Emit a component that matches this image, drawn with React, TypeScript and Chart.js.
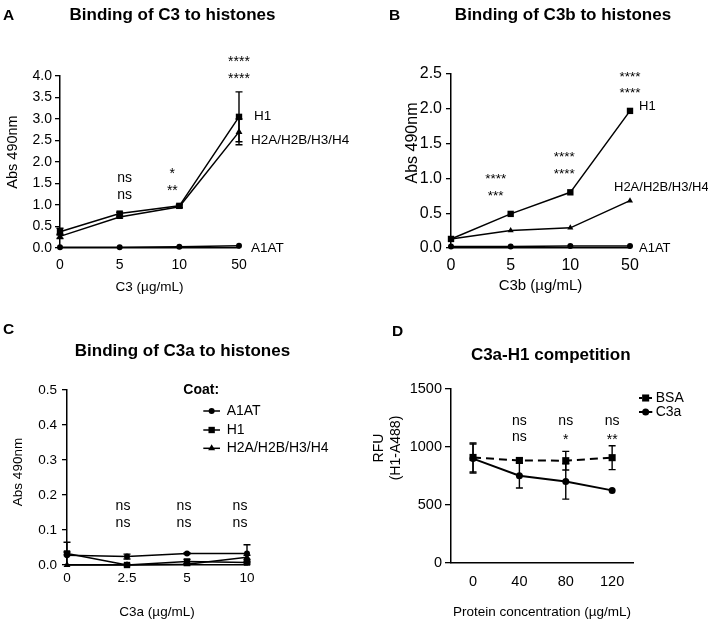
import React, { useEffect, useRef } from 'react';
import { Chart, registerables } from 'chart.js';

Chart.register(...registerables);

const FONT = '"Liberation Sans", Arial, Helvetica, sans-serif';

// ---------- Panel A: Binding of C3 to histones ----------
const concA = ['0', '5', '10', '50'];
const a1atA = [0.02, 0.02, 0.03, 0.05];
const a1atErrA = [0, 0, 0, 0];
const h1A = [0.38, 0.8, 0.98, 3.05];
const h1ErrA = [0.08, 0.03, 0.03, 0.58];
const h2aA = [0.27, 0.72, 0.96, 2.7];
const h2aErrA = [0.05, 0.02, 0.02, 0.3];
const sigTopA = ['', 'ns', '*', '****'];
const sigBottomA = ['', 'ns', '**', '****'];

// ---------- Panel B: Binding of C3b to histones ----------
const concB = ['0', '5', '10', '50'];
const a1atB = [0.02, 0.02, 0.03, 0.03];
const a1atErrB = [0, 0, 0, 0];
const h1B = [0.13, 0.49, 0.8, 1.97];
const h1ErrB = [0, 0, 0, 0];
const h2aB = [0.13, 0.25, 0.29, 0.68];
const h2aErrB = [0, 0, 0, 0];
const sigTopB = ['', '****', '****', '****'];
const sigBottomB = ['', '***', '****', '****'];

// ---------- Panel C: Binding of C3a to histones ----------
const concC = ['0', '2.5', '5', '10'];
const a1atC = [0.028, 0.024, 0.033, 0.033];
const a1atErrC = [0.037, 0.007, 0.002, 0.025];
const h1C = [0.033, 0.0, 0.01, 0.007];
const h1ErrC = [0.004, 0.002, 0.006, 0.004];
const h2aC = [0.0, 0.0, 0.002, 0.022];
const h2aErrC = [0, 0, 0.002, 0.006];
const sigTopC = ['', 'ns', 'ns', 'ns'];
const sigBottomC = ['', 'ns', 'ns', 'ns'];

// ---------- Panel D: C3a-H1 competition ----------
const concD = [0, 40, 80, 120];
const bsaD = [910, 884, 882, 908];
const bsaErrD = [125, 20, 80, 103];
const c3aD = [900, 753, 703, 626];
const c3aErrD = [125, 107, 152, 0];
const sigTopD = ['', 'ns', 'ns', 'ns'];
const sigBottomD = ['', 'ns', '*', '**'];

type Marker = 'rect' | 'circle' | 'triangle';
type Series = { name: string; data: number[]; err: number[]; marker: Marker; dash?: number[] };
type PanelSpec = {
  box: [number, number, number, number];
  letter: string; letterXY: [number, number];
  title: string; titleXY: [number, number];
  yTitle: string[]; yTitleX: number[]; yTitleY: number; yTitleFont: number;
  xTitle: string; xTitleFont: number;
  pad: { left: number; top: number; right: number; bottom: number };
  yWidth: number; xHeight: number;
  tickFont: number; xTickPad: number; yTickPad: number; tickLen: number;
  yMin: number; yMax: number; yStep: number; yDec: number;
  cats?: string[]; xNum?: { values: number[]; min: number; max: number };
  series: Series[];
  lineWidth: number; radius: Record<Marker, number>;
  sig: { top: string[]; bottom: string[]; levelTop: number[]; levelBottom: number[]; dx: number[]; font: number };
  endLabels?: { text: string; y: number; dx: number }[]; endFont?: number;
  legend?: { heading?: string; headingXY?: [number, number]; x0: number; x1: number; tx: number; ys: number[]; font: number };
};

const f = (size: number, bold = false) => `${bold ? 'bold ' : ''}${size}px ${FONT}`;

function drawMarker(ctx: CanvasRenderingContext2D, m: Marker, x: number, y: number, r: number) {
  ctx.beginPath();
  if (m === 'circle') {
    ctx.arc(x, y, r, 0, Math.PI * 2);
  } else if (m === 'rect') {
    const s = r * Math.SQRT1_2;
    ctx.rect(x - s, y - s, 2 * s, 2 * s);
  } else {
    for (let k = 0; k < 3; k++) {
      const a = (k * 2 * Math.PI) / 3;
      const px = x + Math.sin(a) * r;
      const py = y - Math.cos(a) * r;
      if (k === 0) ctx.moveTo(px, py); else ctx.lineTo(px, py);
    }
    ctx.closePath();
  }
  ctx.fill();
}

function extras(p: PanelSpec) {
  return {
    id: 'extras',
    beforeDatasetsDraw(chart: any) {
      const ctx: CanvasRenderingContext2D = chart.ctx;
      const ys = chart.scales.y;
      ctx.save();
      ctx.strokeStyle = '#000';
      ctx.lineWidth = 1.4;
      p.series.forEach((s, i) => {
        const meta = chart.getDatasetMeta(i);
        s.err.forEach((e, j) => {
          if (!e) return;
          const x = meta.data[j].x;
          const yt = ys.getPixelForValue(s.data[j] + e);
          const lowVal = s.data[j] - e;
          const yb = ys.getPixelForValue(Math.max(lowVal, p.yMin));
          ctx.beginPath();
          ctx.moveTo(x, yt); ctx.lineTo(x, yb);
          ctx.moveTo(x - 3.5, yt); ctx.lineTo(x + 3.5, yt);
          if (lowVal >= p.yMin) { ctx.moveTo(x - 3.5, yb); ctx.lineTo(x + 3.5, yb); }
          ctx.stroke();
        });
      });
      ctx.restore();
    },
    afterDraw(chart: any) {
      const ctx: CanvasRenderingContext2D = chart.ctx;
      const xs = chart.scales.x;
      const ys = chart.scales.y;
      ctx.save();
      ctx.fillStyle = '#000';
      ctx.strokeStyle = '#000';
      // letter + title
      ctx.textBaseline = 'middle';
      ctx.textAlign = 'left';
      ctx.font = f(15.5, true);
      ctx.fillText(p.letter, p.letterXY[0], p.letterXY[1]);
      ctx.textAlign = 'center';
      ctx.font = f(17, true);
      ctx.fillText(p.title, p.titleXY[0], p.titleXY[1]);
      // y title
      ctx.font = f(p.yTitleFont);
      p.yTitle.forEach((t, k) => {
        ctx.save();
        ctx.translate(p.yTitleX[k], p.yTitleY);
        ctx.rotate(-Math.PI / 2);
        ctx.fillText(t, 0, 0);
        ctx.restore();
      });
      // significance annotations
      ctx.font = f(p.sig.font);
      const xPix = (j: number) => (p.xNum ? xs.getPixelForValue(p.xNum.values[j]) : xs.getPixelForValue(j));
      const drawSig = (t: string, j: number, level: number) => {
        if (!t) return;
        const isStar = /^\*+$/.test(t);
        const y = ys.getPixelForValue(level) + (isStar ? p.sig.font * 0.22 : 0);
        ctx.fillText(t, xPix(j) + p.sig.dx[j], y);
      };
      p.sig.top.forEach((t, j) => drawSig(t, j, p.sig.levelTop[j]));
      p.sig.bottom.forEach((t, j) => drawSig(t, j, p.sig.levelBottom[j]));
      // end-of-line labels
      if (p.endLabels) {
        ctx.textAlign = 'left';
        ctx.font = f(p.endFont || 13.5);
        const last = p.series[0].data.length - 1;
        p.endLabels.forEach((l) => {
          ctx.fillText(l.text, xPix(last) + l.dx, ys.getPixelForValue(l.y));
        });
      }
      // legend
      if (p.legend) {
        const L = p.legend;
        ctx.textAlign = 'left';
        if (L.heading && L.headingXY) {
          ctx.font = f(L.font, true);
          ctx.fillText(L.heading, L.headingXY[0], L.headingXY[1]);
        }
        ctx.font = f(L.font);
        p.series.forEach((s, i) => {
          const y = L.ys[i];
          ctx.lineWidth = p.lineWidth;
          ctx.setLineDash(s.dash ? [3, 2] : []);
          ctx.beginPath();
          ctx.moveTo(L.x0, y); ctx.lineTo(L.x1, y);
          ctx.stroke();
          ctx.setLineDash([]);
          drawMarker(ctx, s.marker, (L.x0 + L.x1) / 2, y, p.radius[s.marker]);
          ctx.fillText(s.name, L.tx, y);
        });
      }
      ctx.restore();
    },
  };
}

function buildConfig(p: PanelSpec): any {
  const datasets = p.series.map((s) => ({
    label: s.name,
    data: p.xNum ? p.xNum.values.map((x, i) => ({ x, y: s.data[i] })) : s.data,
    borderColor: '#000',
    backgroundColor: '#000',
    borderWidth: p.lineWidth,
    borderDash: s.dash || [],
    pointStyle: s.marker,
    pointRadius: p.radius[s.marker],
    pointBackgroundColor: '#000',
    pointBorderColor: '#000',
    pointBorderWidth: 0,
    tension: 0,
    fill: false,
    clip: false,
  }));
  const xScale: any = p.xNum
    ? {
        type: 'linear',
        min: p.xNum.min,
        max: p.xNum.max,
        afterBuildTicks: (s: any) => { s.ticks = p.xNum!.values.map((v) => ({ value: v })); },
      }
    : { type: 'category', offset: false };
  Object.assign(xScale, {
    grid: { display: false, drawTicks: false },
    border: { display: true, color: '#000', width: 1.5 },
    ticks: { color: '#000', font: { family: FONT, size: p.tickFont }, padding: p.xTickPad, autoSkip: false, maxRotation: 0 },
    title: { display: true, text: p.xTitle, color: '#000', font: { family: FONT, size: p.xTitleFont }, padding: { top: 0, bottom: 0 } },
    afterFit: (s: any) => { s.height = p.xHeight; },
  });
  return {
    type: 'line',
    data: { labels: p.cats, datasets },
    options: {
      animation: false,
      responsive: false,
      maintainAspectRatio: false,
      events: [],
      layout: { padding: p.pad, autoPadding: false },
      plugins: { legend: { display: false }, tooltip: { enabled: false }, title: { display: false } },
      scales: {
        x: xScale,
        y: {
          type: 'linear',
          min: p.yMin,
          max: p.yMax,
          grid: { display: true, drawOnChartArea: false, drawTicks: true, tickLength: p.tickLen, color: '#000', lineWidth: 1.3 },
          border: { display: true, color: '#000', width: 1.5 },
          ticks: {
            stepSize: p.yStep,
            color: '#000',
            font: { family: FONT, size: p.tickFont },
            padding: p.yTickPad,
            callback: (v: any) => Number(v).toFixed(p.yDec),
          },
          title: { display: false },
          afterFit: (s: any) => { s.width = p.yWidth; },
        },
      },
    },
    plugins: [extras(p)],
  };
}

const panelA: PanelSpec = {
  box: [0, 0, 354, 300],
  letter: 'A', letterXY: [3, 15.5],
  title: 'Binding of C3 to histones', titleXY: [172.5, 15],
  yTitle: ['Abs 490nm'], yTitleX: [12.5], yTitleY: 152, yTitleFont: 14.5,
  xTitle: 'C3 (µg/mL)', xTitleFont: 13.5,
  pad: { left: 0, top: 76, right: 115, bottom: 5 }, yWidth: 60, xHeight: 47,
  tickFont: 14, xTickPad: 9, yTickPad: 3, tickLen: 5,
  yMin: 0, yMax: 4, yStep: 0.5, yDec: 1,
  cats: concA,
  series: [
    { name: 'A1AT', data: a1atA, err: a1atErrA, marker: 'circle' },
    { name: 'H1', data: h1A, err: h1ErrA, marker: 'rect' },
    { name: 'H2A/H2B/H3/H4', data: h2aA, err: h2aErrA, marker: 'triangle' },
  ],
  lineWidth: 1.5, radius: { rect: 4.5, circle: 3, triangle: 4 },
  sig: { top: sigTopA, bottom: sigBottomA, levelTop: [0, 1.62, 1.8, 4.4], levelBottom: [0, 1.23, 1.4, 4.0], dx: [0, 5, -7, 0], font: 14 },
  endLabels: [
    { text: 'H1', y: 3.07, dx: 15 },
    { text: 'H2A/H2B/H3/H4', y: 2.5, dx: 12 },
    { text: 'A1AT', y: 0.0, dx: 12 },
  ],
  endFont: 13.5,
};

const panelB: PanelSpec = {
  box: [354, 0, 354, 300],
  letter: 'B', letterXY: [35, 15.5],
  title: 'Binding of C3b to histones', titleXY: [209, 15],
  yTitle: ['Abs 490nm'], yTitleX: [58.3], yTitleY: 143, yTitleFont: 16,
  xTitle: 'C3b (µg/mL)', xTitleFont: 15,
  pad: { left: 46, top: 74, right: 78, bottom: 5 }, yWidth: 51, xHeight: 47,
  tickFont: 16, xTickPad: 8, yTickPad: 4, tickLen: 5,
  yMin: 0, yMax: 2.5, yStep: 0.5, yDec: 1,
  cats: concB,
  series: [
    { name: 'A1AT', data: a1atB, err: a1atErrB, marker: 'circle' },
    { name: 'H1', data: h1B, err: h1ErrB, marker: 'rect' },
    { name: 'H2A/H2B/H3/H4', data: h2aB, err: h2aErrB, marker: 'triangle' },
  ],
  lineWidth: 1.5, radius: { rect: 4.5, circle: 3, triangle: 3.5 },
  sig: { top: sigTopB, bottom: sigBottomB, levelTop: [0, 1.03, 1.34, 2.5], levelBottom: [0, 0.79, 1.1, 2.26], dx: [0, -15, -6, 0], font: 13.5 },
  endLabels: [
    { text: 'H1', y: 2.03, dx: 9 },
    { text: 'H2A/H2B/H3/H4', y: 0.865, dx: -16 },
    { text: 'A1AT', y: 0.0, dx: 9 },
  ],
  endFont: 13,
};

const panelC: PanelSpec = {
  box: [0, 300, 354, 322],
  letter: 'C', letterXY: [3, 30],
  title: 'Binding of C3a to histones', titleXY: [182.5, 51.7],
  yTitle: ['Abs 490nm'], yTitleX: [18], yTitleY: 172, yTitleFont: 13.5,
  xTitle: 'C3a (µg/mL)', xTitleFont: 13.5,
  pad: { left: 6, top: 90, right: 107, bottom: 2 }, yWidth: 61, xHeight: 55,
  tickFont: 13.5, xTickPad: 5, yTickPad: 5, tickLen: 5,
  yMin: 0, yMax: 0.5, yStep: 0.1, yDec: 1,
  cats: concC,
  series: [
    { name: 'A1AT', data: a1atC, err: a1atErrC, marker: 'circle' },
    { name: 'H1', data: h1C, err: h1ErrC, marker: 'rect' },
    { name: 'H2A/H2B/H3/H4', data: h2aC, err: h2aErrC, marker: 'triangle' },
  ],
  lineWidth: 1.5, radius: { rect: 4.5, circle: 3, triangle: 4 },
  sig: { top: sigTopC, bottom: sigBottomC, levelTop: [0, 0.167, 0.167, 0.167], levelBottom: [0, 0.119, 0.119, 0.119], dx: [0, -4, -3, -7], font: 14 },
  legend: { heading: 'Coat:', headingXY: [183.3, 90], x0: 203.3, x1: 220, tx: 226.7, ys: [111, 130, 148.3], font: 14 },
};

const panelD: PanelSpec = {
  box: [354, 300, 354, 322],
  letter: 'D', letterXY: [38, 31.5],
  title: 'C3a-H1 competition', titleXY: [196.7, 55],
  yTitle: ['RFU', '(H1-A488)'], yTitleX: [25, 41.7], yTitleY: 148, yTitleFont: 14,
  xTitle: 'Protein concentration (µg/mL)', xTitleFont: 13.5,
  pad: { left: 13, top: 89, right: 75, bottom: 2 }, yWidth: 84, xHeight: 57,
  tickFont: 14.5, xTickPad: 10, yTickPad: 3, tickLen: 6,
  yMin: 0, yMax: 1500, yStep: 500, yDec: 0,
  xNum: { values: concD, min: -19, max: 138 },
  series: [
    { name: 'BSA', data: bsaD, err: bsaErrD, marker: 'rect', dash: [8, 5] },
    { name: 'C3a', data: c3aD, err: c3aErrD, marker: 'circle' },
  ],
  lineWidth: 2, radius: { rect: 5, circle: 3.5, triangle: 4 },
  sig: { top: sigTopD, bottom: sigBottomD, levelTop: [0, 1221, 1221, 1221], levelBottom: [0, 1086, 1086, 1086], dx: [0, 0, 0, 0], font: 14 },
  legend: { x0: 285, x1: 298.3, tx: 301.7, ys: [98, 112], font: 14 },
};

function PanelChart({ spec }: { spec: PanelSpec }) {
  const ref = useRef<HTMLCanvasElement>(null);
  useEffect(() => {
    if (!ref.current) return;
    const chart = new Chart(ref.current, buildConfig(spec));
    return () => chart.destroy();
  }, [spec]);
  const [l, t, w, h] = spec.box;
  return (
    <div style={{ position: 'absolute', left: l, top: t, width: w, height: h }}>
      <canvas ref={ref} width={w} height={h} style={{ display: 'block', width: w, height: h }} />
    </div>
  );
}

export default function App() {
  return (
    <div style={{ position: 'absolute', left: 0, top: 0, width: 708, height: 622, background: '#fff', overflow: 'hidden' }}>
      <PanelChart spec={panelA} />
      <PanelChart spec={panelB} />
      <PanelChart spec={panelC} />
      <PanelChart spec={panelD} />
    </div>
  );
}
